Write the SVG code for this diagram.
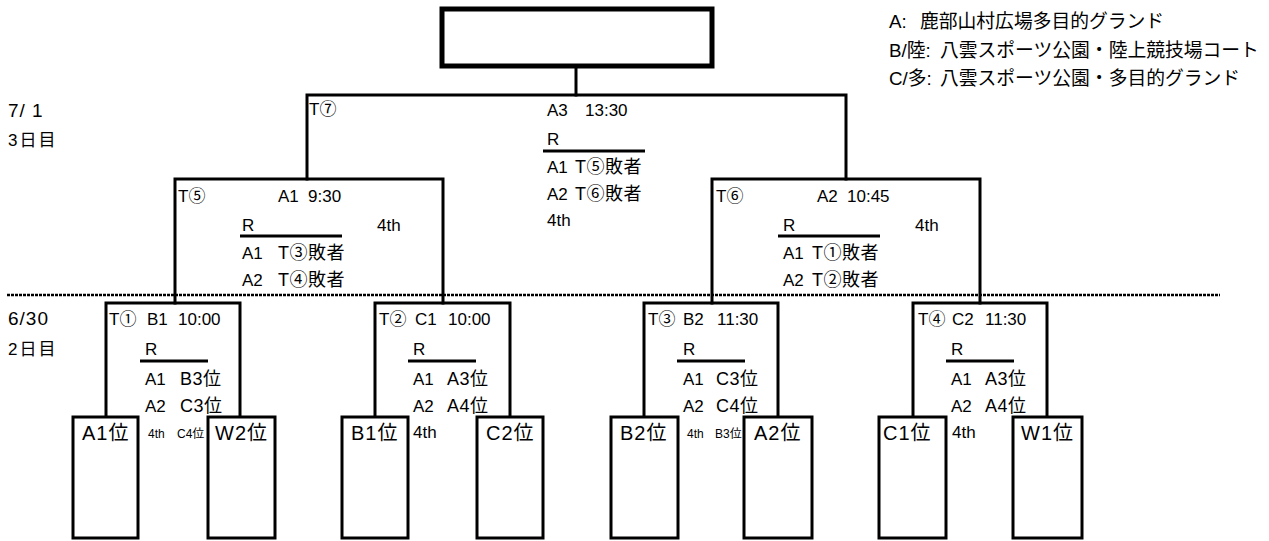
<svg xmlns="http://www.w3.org/2000/svg" width="1269" height="541" viewBox="0 0 1269 541">
<style>
.ln{fill:none;stroke:#000;stroke-width:3;stroke-linecap:square}
.box{fill:#fff;stroke:#000;stroke-width:3}
.fin{fill:#fff;stroke:#000;stroke-width:5}
.rule{stroke:#000;stroke-width:3}
.dot{stroke:#000;stroke-width:2.5;stroke-dasharray:3 1}
text{font-family:"Liberation Sans","Noto Sans CJK JP",sans-serif;font-size:17px;fill:#000}
.w{font-size:18px;letter-spacing:0.5px}
.lg{font-size:18.8px}
.lf{font-size:20px;letter-spacing:1px}
.sm{font-size:12px}
.dt{font-size:19px;letter-spacing:1px}
.dy{font-size:17px;letter-spacing:2px}
</style>
<rect width="1269" height="541" fill="#fff"/>
<line class="dot" x1="7" y1="295" x2="1220" y2="295"/>
<g id="connectors">
<path class="ln" d="M576,66 V95"/>
<path class="ln" d="M307,179 V95 H846 V179"/>
<path class="ln" d="M175,303 V179 H443 V303"/>
<path class="ln" d="M712,303 V179 H980 V303"/>
<path class="ln" d="M106,417 V303 H240 V417"/>
<path class="ln" d="M375,417 V303 H510 V417"/>
<path class="ln" d="M644,417 V303 H778 V417"/>
<path class="ln" d="M913,417 V303 H1047 V417"/>
</g>
<g id="legend">
<text class="lg" y="28"><tspan x="889">A:</tspan><tspan x="920">鹿部山村広場多目的グランド</tspan></text>
<text class="lg" y="57"><tspan x="889">B/陸:</tspan><tspan x="940">八雲スポーツ公園・陸上競技場コート</tspan></text>
<text class="lg" y="85"><tspan x="889">C/多:</tspan><tspan x="940">八雲スポーツ公園・多目的グランド</tspan></text>
</g>
<g id="days">
<text class="dt" x="8" y="117">7/ 1</text>
<text class="dy" x="8" y="146">3日目</text>
<text class="dt" x="8" y="325">6/30</text>
<text class="dy" x="8" y="355">2日目</text>
</g>
<g id="final"><rect class="fin" x="442" y="9" width="270" height="57"/></g>
<g id="t7">
<text x="309" y="115">T⑦</text>
<text y="116"><tspan x="547">A3</tspan> <tspan x="585">13:30</tspan></text>
<text x="547" y="145">R</text>
<line class="rule" x1="543" y1="151" x2="645" y2="151"/>
<text y="173"><tspan x="547">A1</tspan> <tspan class="w" x="575">T⑤敗者</tspan></text>
<text y="200"><tspan x="547">A2</tspan> <tspan class="w" x="575">T⑥敗者</tspan></text>
<text x="547" y="226">4th</text>
</g>
<g id="t5">
<text x="178" y="202">T⑤</text>
<text y="202"><tspan x="278">A1</tspan> <tspan x="308">9:30</tspan></text>
<text x="242" y="231">R</text>
<text x="377" y="231">4th</text>
<line class="rule" x1="240" y1="236" x2="342" y2="236"/>
<text y="259"><tspan x="242">A1</tspan> <tspan class="w" x="278">T③敗者</tspan></text>
<text y="286"><tspan x="242">A2</tspan> <tspan class="w" x="278">T④敗者</tspan></text>
</g>
<g id="t6">
<text x="716" y="202">T⑥</text>
<text y="202"><tspan x="817">A2</tspan> <tspan x="847">10:45</tspan></text>
<text x="783" y="231">R</text>
<text x="915" y="231">4th</text>
<line class="rule" x1="778" y1="236" x2="880" y2="236"/>
<text y="259"><tspan x="783">A1</tspan> <tspan class="w" x="812">T①敗者</tspan></text>
<text y="286"><tspan x="783">A2</tspan> <tspan class="w" x="812">T②敗者</tspan></text>
</g>
<g id="t1">
<text y="325"><tspan x="109">T①</tspan> <tspan x="147">B1</tspan> <tspan x="178">10:00</tspan></text>
<text x="145" y="355">R</text>
<line class="rule" x1="140" y1="361" x2="208" y2="361"/>
<text y="385"><tspan x="145">A1</tspan> <tspan class="w" x="180">B3位</tspan></text>
<text y="412"><tspan x="145">A2</tspan> <tspan class="w" x="180">C3位</tspan></text>
<text class="sm" y="438"><tspan x="148">4th</tspan> <tspan x="177">C4位</tspan></text>
</g>
<g id="t2">
<text y="325"><tspan x="379">T②</tspan> <tspan x="415">C1</tspan> <tspan x="448">10:00</tspan></text>
<text x="413" y="355">R</text>
<line class="rule" x1="408" y1="361" x2="476" y2="361"/>
<text y="385"><tspan x="413">A1</tspan> <tspan class="w" x="447">A3位</tspan></text>
<text y="412"><tspan x="413">A2</tspan> <tspan class="w" x="447">A4位</tspan></text>
<text x="413" y="438">4th</text>
</g>
<g id="t3">
<text y="325"><tspan x="648">T③</tspan> <tspan x="683">B2</tspan> <tspan x="717">11:30</tspan></text>
<text x="683" y="355">R</text>
<line class="rule" x1="677" y1="361" x2="745" y2="361"/>
<text y="385"><tspan x="683">A1</tspan> <tspan class="w" x="716">C3位</tspan></text>
<text y="412"><tspan x="683">A2</tspan> <tspan class="w" x="716">C4位</tspan></text>
<text class="sm" y="438"><tspan x="687">4th</tspan> <tspan x="715">B3位</tspan></text>
</g>
<g id="t4">
<text y="325"><tspan x="918">T④</tspan> <tspan x="952">C2</tspan> <tspan x="985">11:30</tspan></text>
<text x="951" y="355">R</text>
<line class="rule" x1="946" y1="361" x2="1014" y2="361"/>
<text y="385"><tspan x="951">A1</tspan> <tspan class="w" x="985">A3位</tspan></text>
<text y="412"><tspan x="951">A2</tspan> <tspan class="w" x="985">A4位</tspan></text>
<text x="952" y="438">4th</text>
</g>
<g id="leaf-a1"><rect class="box" x="73" y="417" width="65" height="121"/><text class="lf" x="82" y="440">A1位</text></g>
<g id="leaf-w2"><rect class="box" x="208" y="417" width="67" height="121"/><text class="lf" x="215" y="440">W2位</text></g>
<g id="leaf-b1"><rect class="box" x="342" y="417" width="66" height="121"/><text class="lf" x="351" y="440">B1位</text></g>
<g id="leaf-c2"><rect class="box" x="477" y="417" width="66" height="121"/><text class="lf" x="486" y="440">C2位</text></g>
<g id="leaf-b2"><rect class="box" x="611" y="417" width="67" height="121"/><text class="lf" x="620" y="440">B2位</text></g>
<g id="leaf-a2"><rect class="box" x="744" y="417" width="68" height="121"/><text class="lf" x="754" y="440">A2位</text></g>
<g id="leaf-c1"><rect class="box" x="879" y="417" width="67" height="121"/><text class="lf" x="883" y="440">C1位</text></g>
<g id="leaf-w1"><rect class="box" x="1013" y="417" width="69" height="121"/><text class="lf" x="1021" y="440">W1位</text></g>
</svg>
